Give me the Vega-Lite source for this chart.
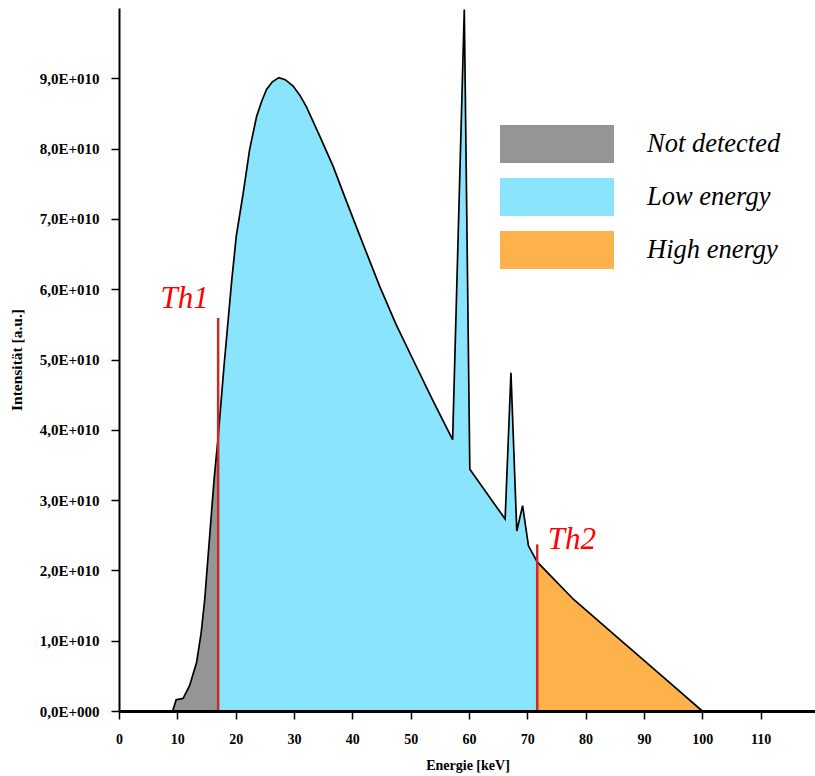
{
  "$schema": "https://vega.github.io/schema/vega-lite/v6.json",
  "autosize": "none",
  "padding": {"left": 119, "top": 8, "right": 0, "bottom": 65},
  "width": 697,
  "height": 703,
  "background": "white",
  "config": {
    "view": {"stroke": null},
    "font": "Liberation Serif"
  },
  "datasets": {
    "spectrum": [
      {"E": 9.2, "I": 0, "region": "Not detected"},
      {"E": 9.8, "I": 0.16e10, "region": "Not detected"},
      {"E": 10.4, "I": 0.17e10, "region": "Not detected"},
      {"E": 11.0, "I": 0.18e10, "region": "Not detected"},
      {"E": 12.1, "I": 0.36e10, "region": "Not detected"},
      {"E": 13.3, "I": 0.69e10, "region": "Not detected"},
      {"E": 14.1, "I": 1.12e10, "region": "Not detected"},
      {"E": 14.7, "I": 1.59e10, "region": "Not detected"},
      {"E": 15.5, "I": 2.44e10, "region": "Not detected"},
      {"E": 16.3, "I": 3.29e10, "region": "Not detected"},
      {"E": 17.0, "I": 3.9e10, "region": "Not detected"},
      {"E": 17.0, "I": 3.9e10, "region": "Low energy"},
      {"E": 18.0, "I": 4.9e10, "region": "Low energy"},
      {"E": 19.3, "I": 6.1e10, "region": "Low energy"},
      {"E": 20.1, "I": 6.75e10, "region": "Low energy"},
      {"E": 21.3, "I": 7.37e10, "region": "Low energy"},
      {"E": 22.4, "I": 7.99e10, "region": "Low energy"},
      {"E": 23.6, "I": 8.46e10, "region": "Low energy"},
      {"E": 24.5, "I": 8.68e10, "region": "Low energy"},
      {"E": 25.3, "I": 8.84e10, "region": "Low energy"},
      {"E": 26.3, "I": 8.95e10, "region": "Low energy"},
      {"E": 27.4, "I": 9.01e10, "region": "Low energy"},
      {"E": 28.5, "I": 8.98e10, "region": "Low energy"},
      {"E": 29.85, "I": 8.89e10, "region": "Low energy"},
      {"E": 31.0, "I": 8.76e10, "region": "Low energy"},
      {"E": 32.1, "I": 8.6e10, "region": "Low energy"},
      {"E": 34.4, "I": 8.18e10, "region": "Low energy"},
      {"E": 36.7, "I": 7.75e10, "region": "Low energy"},
      {"E": 39.0, "I": 7.25e10, "region": "Low energy"},
      {"E": 41.9, "I": 6.63e10, "region": "Low energy"},
      {"E": 44.7, "I": 6.04e10, "region": "Low energy"},
      {"E": 47.5, "I": 5.5e10, "region": "Low energy"},
      {"E": 50.4, "I": 5.0e10, "region": "Low energy"},
      {"E": 53.8, "I": 4.42e10, "region": "Low energy"},
      {"E": 57.2, "I": 3.86e10, "region": "Low energy"},
      {"E": 59.2, "I": 9.98e10, "region": "Low energy"},
      {"E": 60.15, "I": 3.44e10, "region": "Low energy"},
      {"E": 66.2, "I": 2.73e10, "region": "Low energy"},
      {"E": 67.2, "I": 4.81e10, "region": "Low energy"},
      {"E": 68.2, "I": 2.56e10, "region": "Low energy"},
      {"E": 69.2, "I": 2.92e10, "region": "Low energy"},
      {"E": 70.2, "I": 2.35e10, "region": "Low energy"},
      {"E": 71.7, "I": 2.12e10, "region": "Low energy"},
      {"E": 71.7, "I": 2.12e10, "region": "High energy"},
      {"E": 77.9, "I": 1.59e10, "region": "High energy"},
      {"E": 85.0, "I": 1.08e10, "region": "High energy"},
      {"E": 90.0, "I": 0.72e10, "region": "High energy"},
      {"E": 95.0, "I": 0.36e10, "region": "High energy"},
      {"E": 100.0, "I": 0, "region": "High energy"}
    ],
    "thresholds": [
      {"name": "Th1", "E": 17.0, "top": 5.59e10, "base": 0},
      {"name": "Th2", "E": 71.7, "top": 2.37e10, "base": 0}
    ],
    "annotations": [
      {"label": "Th1", "E": 7.1, "I": 5.73e10},
      {"label": "Th2", "E": 73.5, "I": 2.3e10}
    ]
  },
  "layer": [
    {
      "data": {"name": "spectrum"},
      "mark": {"type": "area", "opacity": 1},
      "encoding": {
        "x": {
          "field": "E", "type": "quantitative",
          "scale": {"domain": [0, 119.5], "nice": false, "zero": false},
          "axis": {
            "values": [0, 10, 20, 30, 40, 50, 60, 70, 80, 90, 100, 110],
            "title": "Energie [keV]",
            "grid": false,
            "zindex": 1,
            "domainColor": "black", "domainWidth": 3,
            "tickColor": "black", "tickWidth": 1.5, "tickSize": 8,
            "labelFont": "Liberation Serif", "labelFontWeight": "bold", "labelFontSize": 14,
            "labelColor": "black", "labelPadding": 13, "labelFlush": false,
            "titleFont": "Liberation Serif", "titleFontWeight": "bold", "titleFontSize": 14,
            "titleColor": "black", "titlePadding": 12
          }
        },
        "y": {
          "field": "I", "type": "quantitative", "stack": null,
          "scale": {"domain": [0, 1e11], "nice": false},
          "axis": {
            "values": [0, 1e10, 2e10, 3e10, 4e10, 5e10, 6e10, 7e10, 8e10, 9e10],
            "labelExpr": "datum.value == 0 ? '0,0E+000' : replace(format(datum.value / 1e10, '.1f'), '.', ',') + 'E+010'",
            "title": "Intensität [a.u.]",
            "grid": false,
            "zindex": 1,
            "domainColor": "black", "domainWidth": 2,
            "tickColor": "black", "tickWidth": 1.5, "tickSize": 8,
            "labelFont": "Liberation Serif", "labelFontWeight": "bold", "labelFontSize": 15,
            "labelColor": "black", "labelPadding": 12,
            "titleFont": "Liberation Serif", "titleFontWeight": "bold", "titleFontSize": 15.5,
            "titleColor": "black", "titlePadding": 15
          }
        },
        "color": {
          "field": "region", "type": "nominal",
          "scale": {
            "domain": ["Not detected", "Low energy", "High energy"],
            "range": ["#959595", "#8ae5fc", "#fdb24c"]
          },
          "legend": {
            "orient": "none",
            "legendX": 381,
            "legendY": 117,
            "title": null,
            "symbolType": "M-1,-0.333H1V0.333H-1Z",
            "symbolSize": 12996,
            "symbolStrokeWidth": 0,
            "symbolOpacity": 1,
            "clipHeight": 38,
            "rowPadding": 15,
            "labelOffset": 33,
            "labelFont": "Liberation Serif",
            "labelFontStyle": "italic",
            "labelFontSize": 26.5,
            "labelColor": "black",
            "labelLimit": 300
          }
        }
      }
    },
    {
      "data": {"name": "spectrum"},
      "mark": {"type": "line", "color": "black", "strokeWidth": 1.7},
      "encoding": {
        "x": {"field": "E", "type": "quantitative"},
        "y": {"field": "I", "type": "quantitative"}
      }
    },
    {
      "data": {"name": "thresholds"},
      "mark": {"type": "rule", "color": "#d02828", "strokeWidth": 2.5},
      "encoding": {
        "x": {"field": "E", "type": "quantitative"},
        "y": {"field": "top", "type": "quantitative"},
        "y2": {"field": "base"}
      }
    },
    {
      "data": {"name": "annotations"},
      "mark": {"type": "text", "align": "left", "baseline": "alphabetic", "font": "Liberation Serif", "fontStyle": "italic", "fontSize": 31, "color": "#ff0000"},
      "encoding": {
        "x": {"field": "E", "type": "quantitative"},
        "y": {"field": "I", "type": "quantitative"},
        "text": {"field": "label", "type": "nominal"}
      }
    }
  ]
}
